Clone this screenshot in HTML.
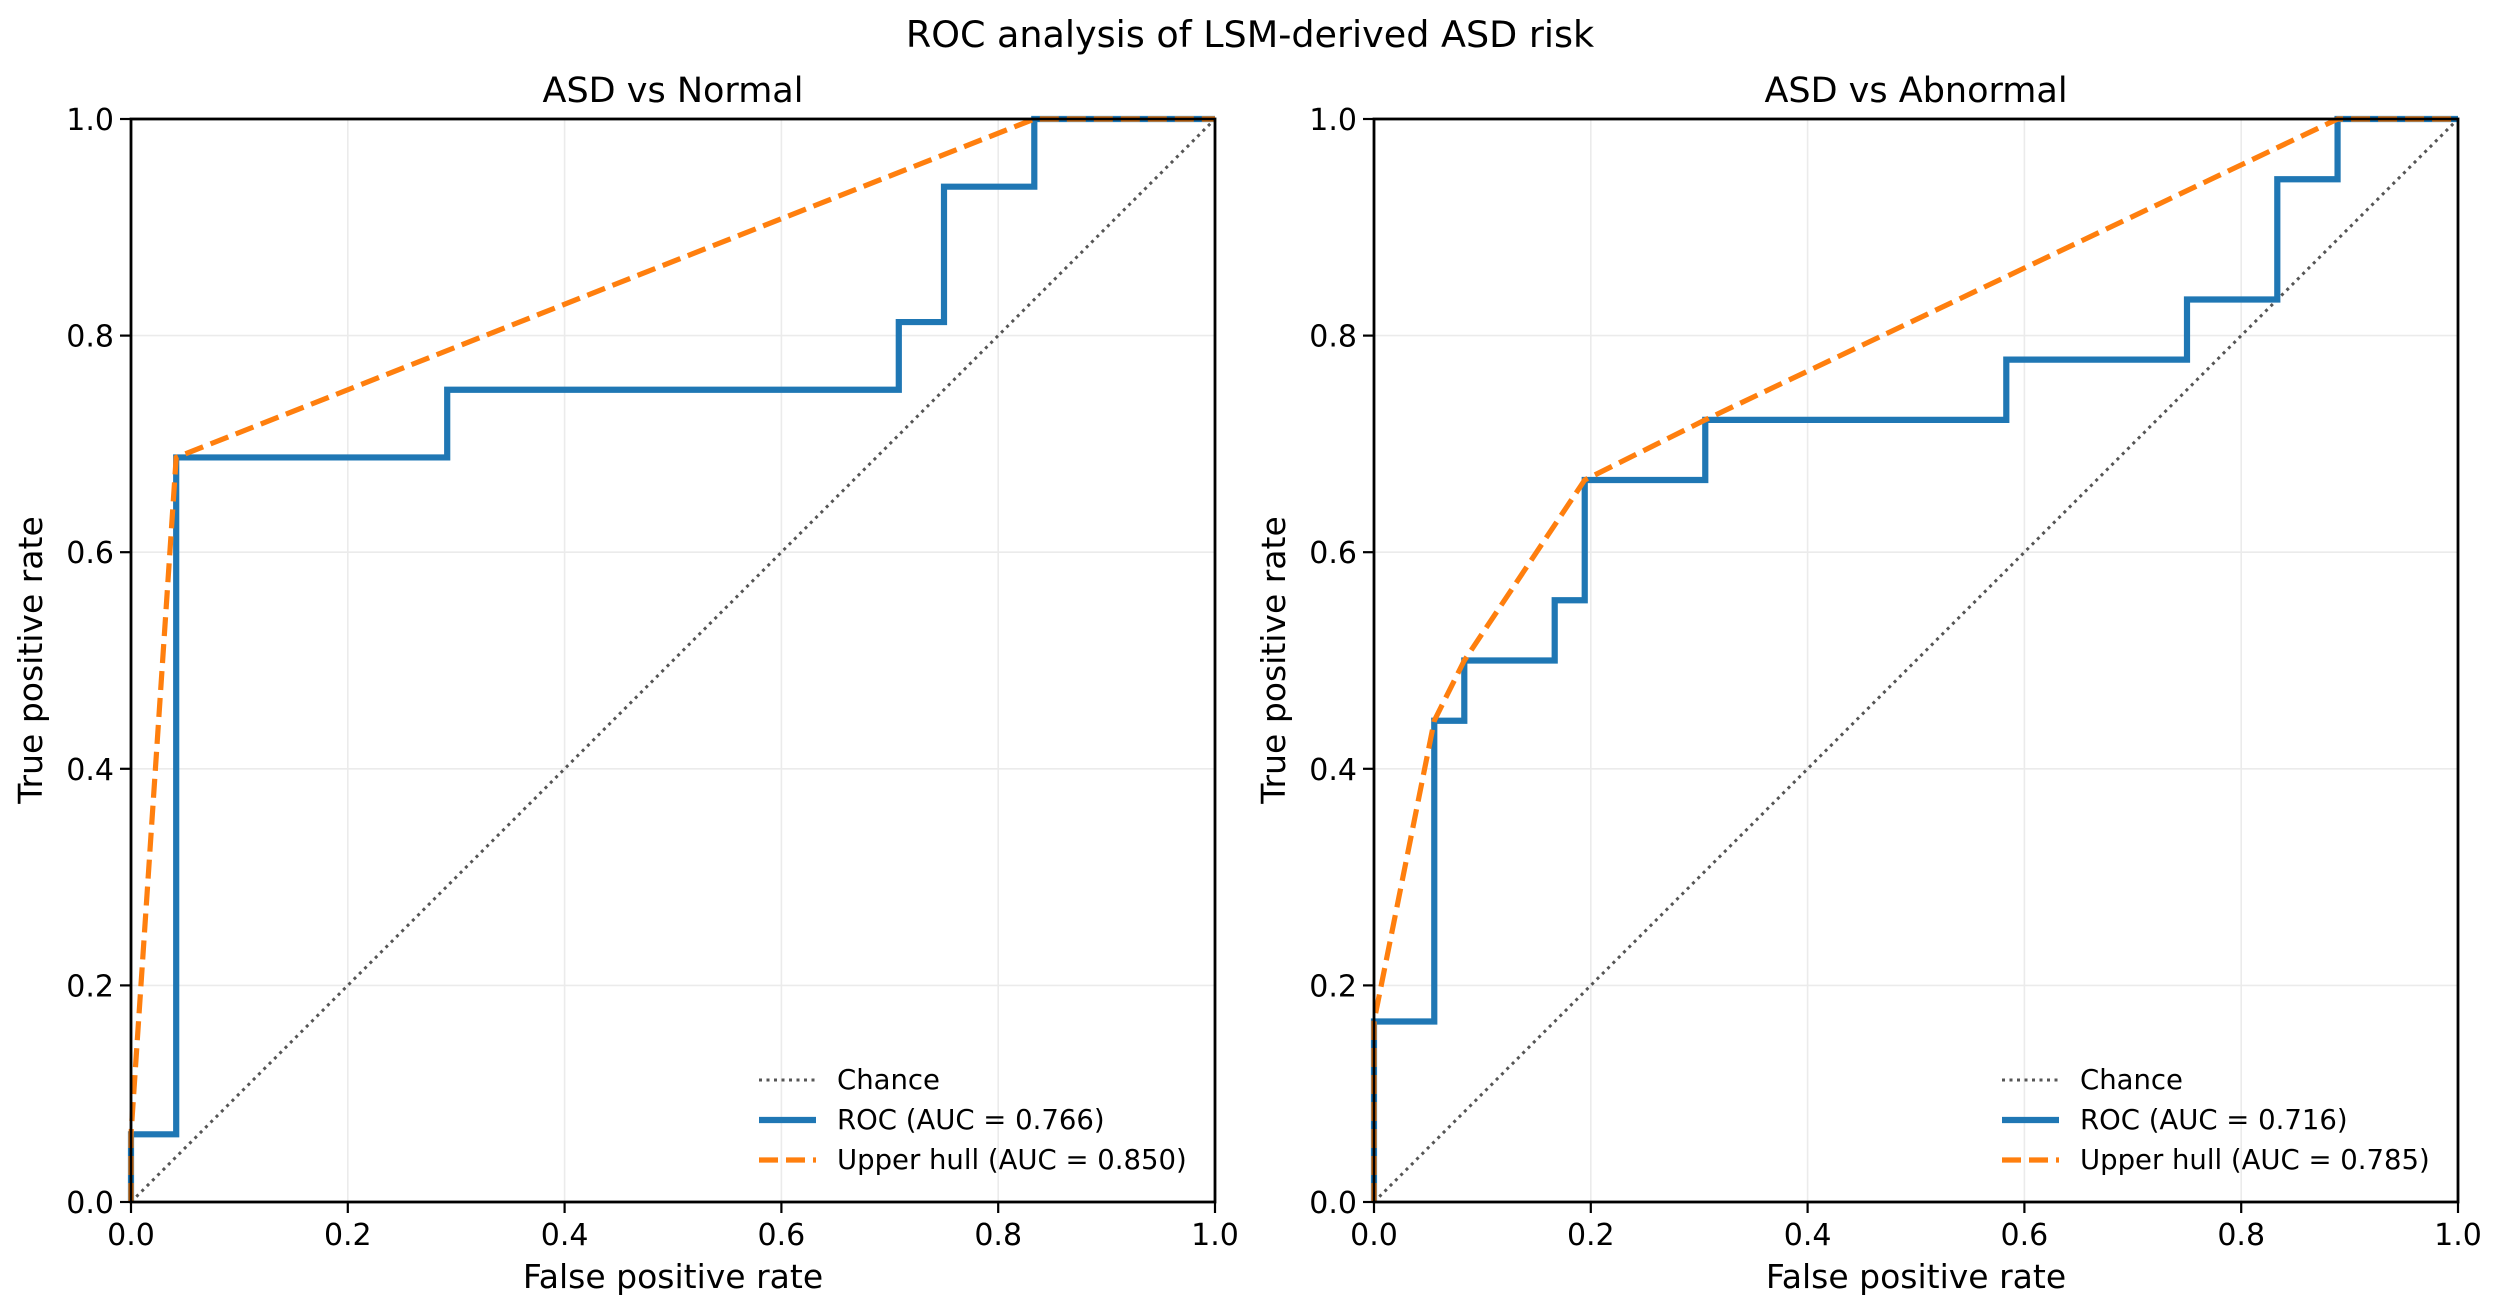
<!DOCTYPE html>
<html><head><meta charset="utf-8"><style>
body{margin:0;background:#fff;}
svg{display:block;font-family:"DejaVu Sans","Liberation Sans",sans-serif;}
</style></head><body>
<svg id="fig" width="2500" height="1314" viewBox="0 0 2500 1314" xmlns="http://www.w3.org/2000/svg">
<rect width="2500" height="1314" fill="#fff"/>
<text x="1250" y="47" text-anchor="middle" font-size="36.5" fill="#000">ROC analysis of LSM-derived ASD risk</text>
</svg>
<script>
const ticks=[0,0.2,0.4,0.6,0.8,1.0];
const tickLabels=["0.0","0.2","0.4","0.6","0.8","1.0"];
const titles=["ASD vs Normal","ASD vs Abnormal"];
const rocAuc=["0.766","0.716"];
const hullAuc=["0.850","0.785"];
const rocFprA=[0,0,0.0417,0.0417,0.2917,0.2917,0.7083,0.7083,0.75,0.75,0.8333,0.8333,1];
const rocTprA=[0,0.0625,0.0625,0.6875,0.6875,0.75,0.75,0.8125,0.8125,0.9375,0.9375,1,1];
const hullFprA=[0,0,0.0417,0.8333,1];
const hullTprA=[0,0.0625,0.6875,1,1];
const rocFprB=[0,0,0.0556,0.0556,0.0833,0.0833,0.1667,0.1667,0.1944,0.1944,0.3056,0.3056,0.5833,0.5833,0.75,0.75,0.8333,0.8333,0.8889,0.8889,1];
const rocTprB=[0,0.1667,0.1667,0.4444,0.4444,0.5,0.5,0.5556,0.5556,0.6667,0.6667,0.7222,0.7222,0.7778,0.7778,0.8333,0.8333,0.9444,0.9444,1,1];
const hullFprB=[0,0,0.0556,0.0833,0.1944,0.3056,0.8889,1];
const hullTprB=[0,0.1667,0.4444,0.5,0.6667,0.7222,1,1];

const NS="http://www.w3.org/2000/svg";
const svg=document.getElementById('fig');
function mk(tag,attrs,parent){const e=document.createElementNS(NS,tag);for(const k in attrs)e.setAttribute(k,attrs[k]);(parent||svg).appendChild(e);return e;}
const Y0=1202,Y1=119;
const panels=[{x0:131,x1:1215,rf:rocFprA,rt:rocTprA,hf:hullFprA,ht:hullTprA},{x0:1374,x1:2458,rf:rocFprB,rt:rocTprB,hf:hullFprB,ht:hullTprB}];
panels.forEach((p,i)=>{
  const sx=v=>p.x0+v*(p.x1-p.x0);
  const sy=v=>Y0-v*(Y0-Y1);
  const g=mk('g',{});
  
  
  ticks.forEach((t,j)=>{
    const gx=mk('line',{x1:sx(t),x2:sx(t),y1:Y0,y2:Y1,stroke:'#ebebeb','stroke-width':1.6},g);
    
    
    const gy=mk('line',{x1:p.x0,x2:p.x1,y1:sy(t),y2:sy(t),stroke:'#ebebeb','stroke-width':1.6},g);
    
    
  });
  const ch=mk('line',{x1:sx(0),y1:sy(0),x2:sx(1),y2:sy(1),stroke:'#555','stroke-width':3,'stroke-dasharray':'3 4.5'},g);
  
  
  const rp=p.rf.map((f,k)=>sx(f)+','+sy(p.rt[k])).join(' ');
  const roc=mk('polyline',{points:rp,fill:'none',stroke:'#1f77b4','stroke-width':6.2,'stroke-linejoin':'miter'},g);
  
  
  const hp=p.hf.map((f,k)=>sx(f)+','+sy(p.ht[k])).join(' ');
  const hull=mk('polyline',{points:hp,fill:'none',stroke:'#ff7f0e','stroke-width':5.2,'stroke-dasharray':'19 8'},g);
  
  
  const fr=mk('rect',{x:p.x0,y:Y1,width:p.x1-p.x0,height:Y0-Y1,fill:'none',stroke:'#000','stroke-width':2.8},g);
  
  
  ticks.forEach((t,j)=>{
    const xt=mk('line',{x1:sx(t),x2:sx(t),y1:Y0,y2:Y0+11,stroke:'#000','stroke-width':2.2},g);
    
    
    const xl=mk('text',{x:sx(t),y:Y0+43,'text-anchor':'middle','font-size':30},g);
    xl.textContent=tickLabels[j];
    
    
    const yt=mk('line',{x1:p.x0-11,x2:p.x0,y1:sy(t),y2:sy(t),stroke:'#000','stroke-width':2.2},g);
    
    
    const yl=mk('text',{x:p.x0-17,y:sy(t)+11,'text-anchor':'end','font-size':30},g);
    yl.textContent=tickLabels[j];
    
    
  });
  const cx=(p.x0+p.x1)/2;
  const tt=mk('text',{x:cx,y:102,'text-anchor':'middle','font-size':35},g);
  tt.textContent=titles[i];
  
  
  const xa=mk('text',{x:cx,y:1288,'text-anchor':'middle','font-size':33},g);
  xa.textContent='False positive rate';
  
  
  const ya=mk('text',{x:0,y:0,'text-anchor':'middle','font-size':33,transform:`translate(${p.x0-89},660) rotate(-90)`},g);
  ya.textContent='True positive rate';
  
  
  const lx=p.x0+628, tx=lx+78;
  const leg=mk('g',{},g);
  
  
  const l1=mk('line',{x1:lx,x2:lx+57,y1:1080,y2:1080,stroke:'#555','stroke-width':3,'stroke-dasharray':'3 4.5'},leg);
  
  
  const t1=mk('text',{x:tx,y:1089,'font-size':27.5},leg);t1.textContent='Chance';
  
  
  const l2=mk('line',{x1:lx,x2:lx+57,y1:1120,y2:1120,stroke:'#1f77b4','stroke-width':6.2},leg);
  
  
  const t2=mk('text',{x:tx,y:1129,'font-size':27.5},leg);t2.textContent='ROC (AUC = '+rocAuc[i]+')';
  
  
  const l3=mk('line',{x1:lx,x2:lx+57,y1:1160,y2:1160,stroke:'#ff7f0e','stroke-width':5.2,'stroke-dasharray':'19 8'},leg);
  
  
  const t3=mk('text',{x:tx,y:1169,'font-size':27.5},leg);t3.textContent='Upper hull (AUC = '+hullAuc[i]+')';
  
  
});
</script>
</body></html>
